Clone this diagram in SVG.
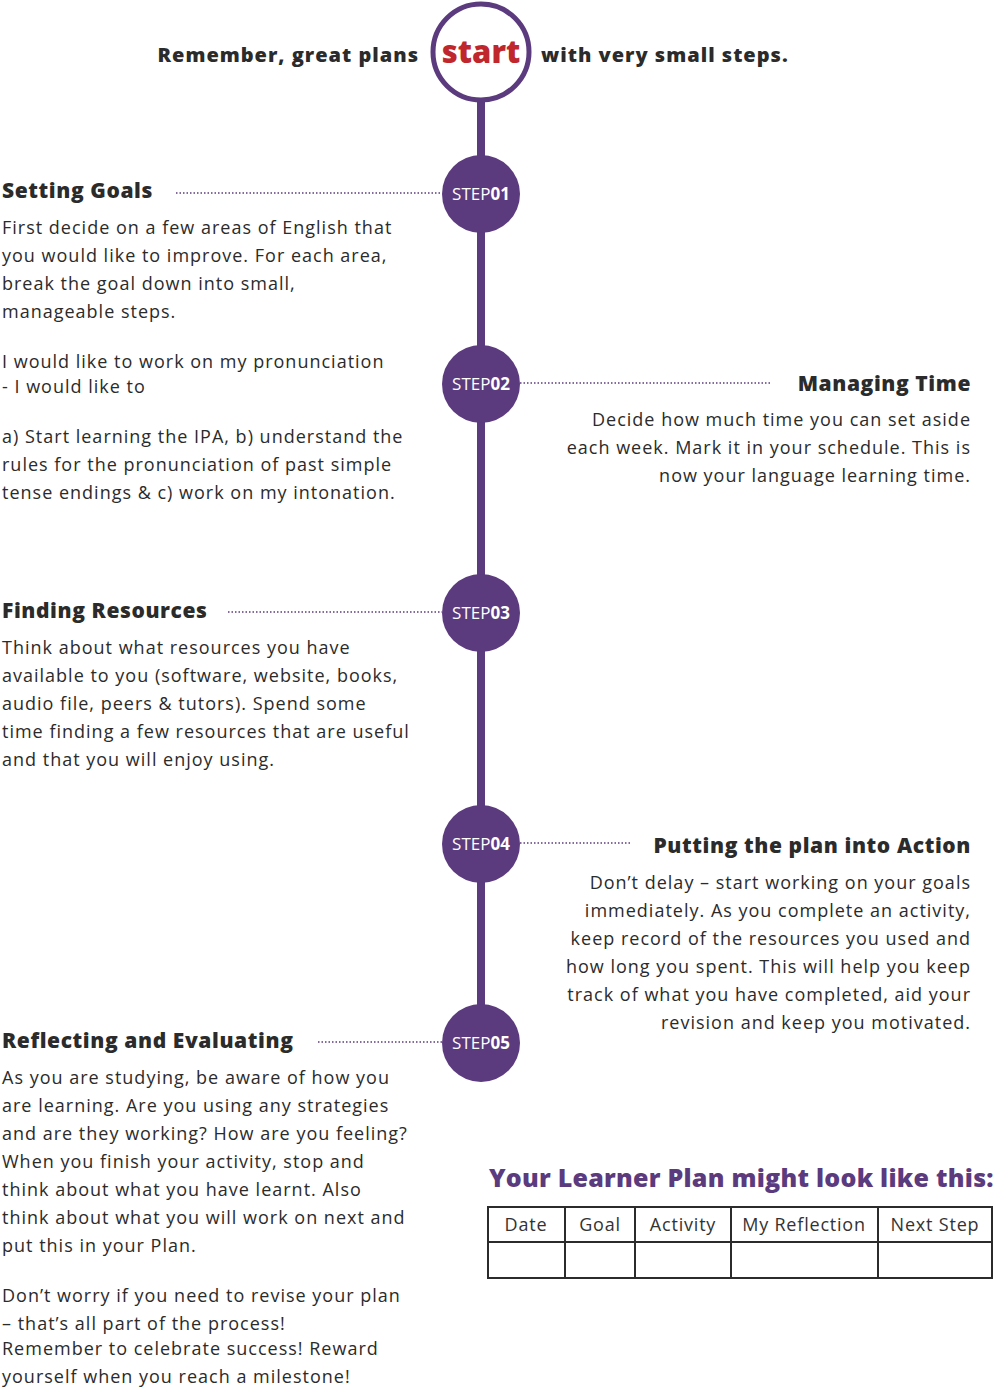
<svg xmlns="http://www.w3.org/2000/svg" width="994" height="1388" viewBox="0 0 994 1388">
<style>
text{font-family:"Open Sans","Liberation Sans",sans-serif;fill:#2b2b2b}
.h{font-weight:800;font-size:21px;letter-spacing:0.6px}
.b{font-size:18px;letter-spacing:1px}
.r{text-anchor:end}
.st{fill:#fff;font-size:17px}
.st tspan{font-weight:bold}
.dot{stroke:#5c3a7e;stroke-width:1.3;stroke-dasharray:1.5 2}
.c{fill:#5c3a7e}
.tb{fill:none;stroke:#2b2b2b;stroke-width:2}
.tt{font-size:18px;text-anchor:middle;fill:#333;letter-spacing:0.8px}
.s{font-weight:800;font-size:20px;letter-spacing:1px}
</style>
<rect width="994" height="1388" fill="#fff"/>
<g id="connectors">
<line x1="481" y1="100" x2="481" y2="1043" stroke="#5c3a7e" stroke-width="8"/>
<line class="dot" x1="176" y1="193" x2="442" y2="193"/>
<line class="dot" x1="520" y1="383" x2="770" y2="383"/>
<line class="dot" x1="228" y1="612" x2="442" y2="612"/>
<line class="dot" x1="520" y1="843" x2="630" y2="843"/>
<line class="dot" x1="318" y1="1042" x2="442" y2="1042"/>
</g>
<g id="start">
<circle cx="481" cy="52" r="48" fill="#fff" stroke="#5c3a7e" stroke-width="5"/>
<text x="481" y="63" text-anchor="middle" style="fill:#c0272d;font-weight:800;font-size:31px">start</text>
<text x="419" y="62" class="r s">Remember, great plans</text>
<text x="541" y="62" class="s">with very small steps.</text>
</g>
<g id="step1"><circle class="c" cx="481" cy="194" r="39"/><text class="st" x="481" y="200" text-anchor="middle">STEP<tspan>01</tspan></text>
<text class="h" x="2" y="198">Setting Goals</text>
<text class="b" x="2"><tspan x="2" y="234">First decide on a few areas of English that</tspan><tspan x="2" y="262">you would like to improve. For each area,</tspan><tspan x="2" y="290">break the goal down into small,</tspan><tspan x="2" y="318">manageable steps.</tspan><tspan x="2" y="368">I would like to work on my pronunciation</tspan><tspan x="2" y="393">- I would like to</tspan><tspan x="2" y="443">a) Start learning the IPA, b) understand the</tspan><tspan x="2" y="471">rules for the pronunciation of past simple</tspan><tspan x="2" y="499">tense endings &amp; c) work on my intonation.</tspan></text>
</g>
<g id="step2"><circle class="c" cx="481" cy="384" r="39"/><text class="st" x="481" y="390" text-anchor="middle">STEP<tspan>02</tspan></text>
<text class="h r" x="971" y="391">Managing Time</text>
<text class="b r"><tspan x="971" y="426">Decide how much time you can set aside</tspan><tspan x="971" y="454">each week. Mark it in your schedule. This is</tspan><tspan x="971" y="482">now your language learning time.</tspan></text>
</g>
<g id="step3"><circle class="c" cx="481" cy="613" r="39"/><text class="st" x="481" y="619" text-anchor="middle">STEP<tspan>03</tspan></text>
<text class="h" x="2" y="618">Finding Resources</text>
<text class="b"><tspan x="2" y="654">Think about what resources you have</tspan><tspan x="2" y="682">available to you (software, website, books,</tspan><tspan x="2" y="710">audio file, peers &amp; tutors). Spend some</tspan><tspan x="2" y="738">time finding a few resources that are useful</tspan><tspan x="2" y="766">and that you will enjoy using.</tspan></text>
</g>
<g id="step4"><circle class="c" cx="481" cy="844" r="39"/><text class="st" x="481" y="850" text-anchor="middle">STEP<tspan>04</tspan></text>
<text class="h r" x="971" y="853">Putting the plan into Action</text>
<text class="b r"><tspan x="971" y="889">Don’t delay – start working on your goals</tspan><tspan x="971" y="917">immediately. As you complete an activity,</tspan><tspan x="971" y="945">keep record of the resources you used and</tspan><tspan x="971" y="973">how long you spent. This will help you keep</tspan><tspan x="971" y="1001">track of what you have completed, aid your</tspan><tspan x="971" y="1029">revision and keep you motivated.</tspan></text>
</g>
<g id="step5"><circle class="c" cx="481" cy="1043" r="39"/><text class="st" x="481" y="1049" text-anchor="middle">STEP<tspan>05</tspan></text>
<text class="h" x="2" y="1048">Reflecting and Evaluating</text>
<text class="b"><tspan x="2" y="1084">As you are studying, be aware of how you</tspan><tspan x="2" y="1112">are learning. Are you using any strategies</tspan><tspan x="2" y="1140">and are they working? How are you feeling?</tspan><tspan x="2" y="1168">When you finish your activity, stop and</tspan><tspan x="2" y="1196">think about what you have learnt. Also</tspan><tspan x="2" y="1224">think about what you will work on next and</tspan><tspan x="2" y="1252">put this in your Plan.</tspan><tspan x="2" y="1302">Don’t worry if you need to revise your plan</tspan><tspan x="2" y="1330">– that’s all part of the process!</tspan><tspan x="2" y="1355">Remember to celebrate success! Reward</tspan><tspan x="2" y="1383">yourself when you reach a milestone!</tspan></text>
</g>
<g id="plan">
<text x="489" y="1187" style="fill:#5c3a7e;font-weight:800;font-size:25px;letter-spacing:0.25px">Your Learner Plan might look like this:</text>
<rect class="tb" x="488" y="1207" width="504" height="71"/>
<line class="tb" x1="488" y1="1242" x2="992" y2="1242"/>
<line class="tb" x1="565" y1="1207" x2="565" y2="1278"/>
<line class="tb" x1="635" y1="1207" x2="635" y2="1278"/>
<line class="tb" x1="731" y1="1207" x2="731" y2="1278"/>
<line class="tb" x1="878" y1="1207" x2="878" y2="1278"/>
<text class="tt" x="526" y="1231">Date</text>
<text class="tt" x="600" y="1231">Goal</text>
<text class="tt" x="683" y="1231">Activity</text>
<text class="tt" x="804" y="1231">My Reflection</text>
<text class="tt" x="935" y="1231">Next Step</text>
</g>
</svg>
